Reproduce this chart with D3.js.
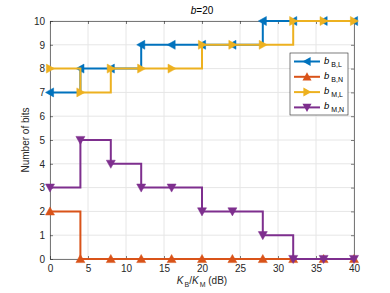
<!DOCTYPE html>
<html><head><meta charset="utf-8">
<script src="https://cdn.jsdelivr.net/npm/d3@7"></script>
<style>body{margin:0;background:#fff}svg{display:block;font-family:"Liberation Sans",Arial,sans-serif}</style>
</head><body><svg id="c" width="390" height="293"></svg>
<script>
const xs = [0,4,8,12,16,20,24,28,32,36,40];
const bBL = [7,8,8,9,9,9,9,10,10,10,10];
const bBN = [2,0,0,0,0,0,0,0,0,0,0];
const bML = [8,7,8,8,8,9,9,9,10,10,10];
const bMN = [3,5,4,3,3,2,2,1,0,0,0];
const xTicks = [0,5,10,15,20,25,30,35,40];
const yTicks = [0,1,2,3,4,5,6,7,8,9,10];
const seriesNames = [["B,L"],["B,N"],["M,L"],["M,N"]];
const colors = ["#0072BD","#D95319","#EDB120","#7E2F8E"];
const markers = ["left","up","right","down"];
const series = [bBL,bBN,bML,bMN];

const svg = d3.select("#c");
const L=50,R=354,T=21,B=259;
const x = d3.scaleLinear().domain([0,40]).range([L,R]);
const y = d3.scaleLinear().domain([0,10]).range([B,T]);

// grid
const g = svg.append("g");
g.selectAll(".gx").data(xTicks).join("line").attr("x1",d=>x(d)).attr("x2",d=>x(d)).attr("y1",T).attr("y2",B).attr("stroke","#e6e6e6").attr("stroke-width",1);
g.selectAll(".gy").data(yTicks).join("line").attr("y1",d=>y(d)).attr("y2",d=>y(d)).attr("x1",L).attr("x2",R).attr("stroke","#e6e6e6").attr("stroke-width",1);

// axes
const ax = d3.axisBottom(x).tickValues(xTicks).tickSizeInner(-3).tickSizeOuter(0).tickPadding(6);
const axT = d3.axisTop(x).tickValues(xTicks).tickSizeInner(-3).tickSizeOuter(0).tickFormat("");
const ay = d3.axisLeft(y).tickValues(yTicks).tickSizeInner(-3).tickSizeOuter(0).tickPadding(5);
const ayR = d3.axisRight(y).tickValues(yTicks).tickSizeInner(-3).tickSizeOuter(0).tickFormat("");
function style(sel){sel.selectAll("path").attr("stroke","#262626").attr("stroke-width",0.6);sel.selectAll("line").attr("stroke","#262626").attr("stroke-width",0.6);sel.selectAll("text").attr("fill","#262626").style("font-size","10px").style("font-family","Liberation Sans, Arial, sans-serif");}
svg.append("g").attr("transform",`translate(0,${B})`).call(ax).call(style);
svg.append("g").attr("transform",`translate(0,${T})`).call(axT).call(style);
svg.append("g").attr("transform",`translate(${L},0)`).call(ay).call(style);
svg.append("g").attr("transform",`translate(${R},0)`).call(ayR).call(style);

// lines
const line = d3.line().x(d=>x(d[0])).y(d=>y(d[1])).curve(d3.curveStepAfter);
function tri(dir,s){
  const h=s;
  if(dir==="up") return `M0,${-h}L${h},${h*0.8}L${-h},${h*0.8}Z`;
  if(dir==="down") return `M0,${h}L${h},${-h*0.8}L${-h},${-h*0.8}Z`;
  if(dir==="left") return `M${-h},0L${h*0.8},${h}L${h*0.8},${-h}Z`;
  return `M${h},0L${-h*0.8},${h}L${-h*0.8},${-h}Z`;
}
series.forEach((vals,i)=>{
  const pts = xs.map((xv,j)=>[xv,vals[j]]);
  const gs = svg.append("g");
  gs.append("path").attr("d",line(pts)).attr("fill","none").attr("stroke",colors[i]).attr("stroke-width",2);
  gs.selectAll("path.m").data(pts).join("path").attr("class","m")
    .attr("transform",d=>`translate(${x(d[0])},${y(d[1])})`)
    .attr("d",tri(markers[i],4.5)).attr("fill",colors[i]).attr("stroke",colors[i]).attr("stroke-width",0.5);
});

// legend
const lg = svg.append("g").attr("transform","translate(290,53)");
lg.append("rect").attr("width",58).attr("height",62).attr("fill","#fff").attr("stroke","#262626").attr("stroke-width",0.6);
seriesNames.forEach((n,i)=>{
  const yy = 8.5+i*15.3;
  lg.append("line").attr("x1",4).attr("x2",30).attr("y1",yy).attr("y2",yy).attr("stroke",colors[i]).attr("stroke-width",2);
  lg.append("path").attr("transform",`translate(17,${yy})`).attr("d",tri(markers[i],4.5)).attr("fill",colors[i]);
  const t = lg.append("text").attr("x",34).attr("y",yy+2).attr("fill","#000").style("font-size","9.5px");
  t.append("tspan").text("b").style("font-style","italic");
  t.append("tspan").attr("dy",3).attr("dx",2).text(n[0]).style("font-size","7px");
});

// title
const tt = svg.append("text").attr("x",(L+R)/2).attr("y",14).attr("text-anchor","middle").attr("fill","#000").style("font-size","10px");
tt.append("tspan").text("b").style("font-style","italic");
tt.append("tspan").text("=20");

// x label
const xl = svg.append("text").attr("x",(L+R)/2).attr("y",284).attr("text-anchor","middle").attr("fill","#262626").style("font-size","10px");
xl.append("tspan").text("K").style("font-style","italic");
xl.append("tspan").attr("dy",3).attr("dx",1).text("B").style("font-size","7px");
xl.append("tspan").attr("dy",-3).text("/");
xl.append("tspan").text("K").style("font-style","italic");
xl.append("tspan").attr("dy",3).attr("dx",1).text("M").style("font-size","7px");
xl.append("tspan").attr("dy",-3).text(" (dB)");

// y label
svg.append("text").attr("transform",`translate(29,${(T+B)/2}) rotate(-90)`).attr("text-anchor","middle").attr("fill","#262626").style("font-size","10px").text("Number of bits");
</script></body></html>
